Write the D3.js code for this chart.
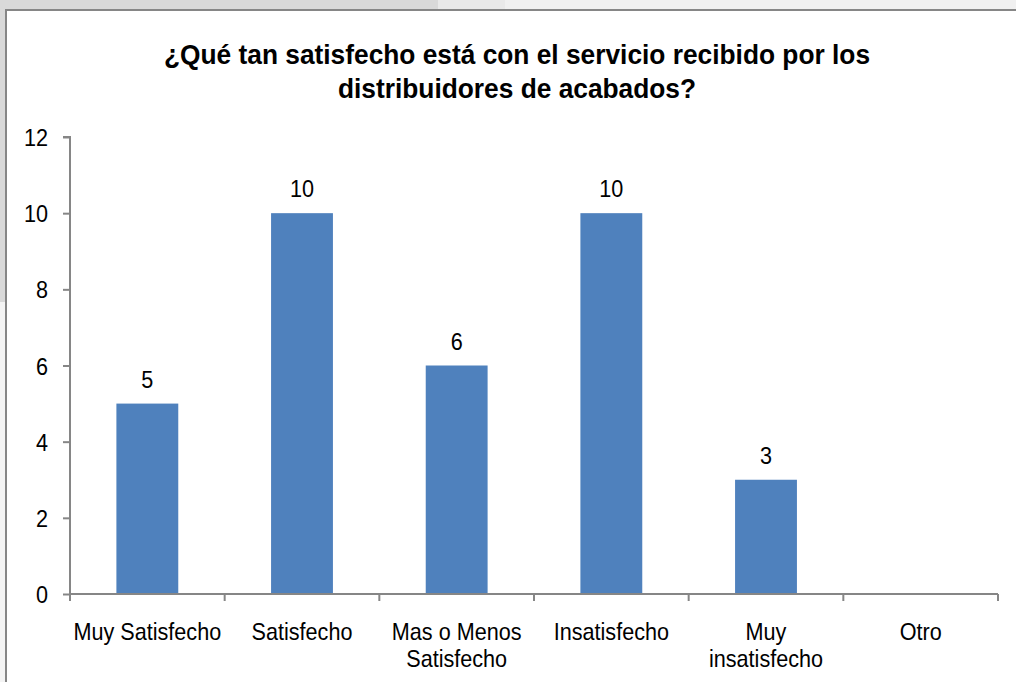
<!DOCTYPE html>
<html>
<head>
<meta charset="utf-8">
<script src="https://cdn.jsdelivr.net/npm/d3@7"></script>
<style>
	body { margin: 0; background: #fff; }
	svg text { font-family: "Liberation Sans", Arial, sans-serif; fill: #000; }
</style>
</head>
<body>
<script>
const categories = [
	["Muy Satisfecho"],
	["Satisfecho"],
	["Mas o Menos", "Satisfecho"],
	["Insatisfecho"],
	["Muy", "insatisfecho"],
	["Otro"],
];
const values = [5, 10, 6, 10, 3, null];
const yTicks = [0, 2, 4, 6, 8, 10, 12];
const titleLines = [
	"¿Qué tan satisfecho está con el servicio recibido por los",
	"distribuidores de acabados?",
];

const width = 1016;
const height = 682;
const narrow = 0.9; // mimic Arial Narrow

const svg = d3
	.select("body")
	.append("svg")
	.attr("width", width)
	.attr("height", height);

// background behind the chart frame
svg.append("rect").attr("x", 0).attr("y", 0).attr("width", width).attr("height", 10).attr("fill", "#f0f0f0");
svg.append("rect").attr("x", 0).attr("y", 0).attr("width", 438).attr("height", 10).attr("fill", "#d9d9d9");
svg.append("rect").attr("x", 438).attr("y", 0).attr("width", 67).attr("height", 10).attr("fill", "#e9e9e9");
svg.append("rect").attr("x", 0).attr("y", 0).attr("width", 5).attr("height", 302).attr("fill", "#d9d9d9");
svg.append("rect").attr("x", 0).attr("y", 302).attr("width", 5).attr("height", 380).attr("fill", "#f4f4f4");

// frame
svg.append("path")
	.attr("d", `M6,${height} V10 H${width}`)
	.attr("fill", "none")
	.attr("stroke", "#868686")
	.attr("stroke-width", 2);

const margin = { left: 70, right: 998, top: 137, bottom: 594 };

const x = d3
	.scaleBand()
	.domain(d3.range(categories.length))
	.range([margin.left, margin.right])
	.paddingInner(0.6)
	.paddingOuter(0.3);

const y = d3.scaleLinear().domain([0, 12]).range([margin.bottom, margin.top]);

const place = (px, py, k = narrow) => `translate(${px},${py}) scale(${k},1)`;

// title
svg.append("g")
	.selectAll("text")
	.data(titleLines)
	.enter()
	.append("text")
	.attr("text-anchor", "middle")
	.attr("font-size", 28)
	.attr("font-weight", "bold")
	.attr("transform", (d, i) => place(517, 64 + i * 34, 0.94))
	.text((d) => d);

// y axis
const yAxis = svg.append("g")
	.attr("transform", `translate(${margin.left},0)`)
	.call(d3.axisLeft(y).tickValues(yTicks).tickSize(7));
yAxis.select(".domain").attr("stroke", "#868686").attr("stroke-width", 2).attr("d", `M-7,${margin.top}H0V${margin.bottom}`);
yAxis.selectAll(".tick line").attr("stroke", "#868686").attr("stroke-width", 2);
yAxis.selectAll(".tick text")
	.attr("font-size", 24)
	.attr("font-family", null)
	.attr("x", null)
	.attr("dy", null)
	.attr("transform", place(-22, 8.5));

// bars
const barData = values.map((v, i) => ({ v, i })).filter((d) => d.v != null);
svg.append("g")
	.selectAll("rect")
	.data(barData)
	.enter()
	.append("rect")
	.attr("x", (d) => x(d.i))
	.attr("y", (d) => y(d.v))
	.attr("width", x.bandwidth())
	.attr("height", (d) => y(0) - y(d.v))
	.attr("fill", "#4f81bd");

// value labels
svg.append("g")
	.selectAll("text")
	.data(barData)
	.enter()
	.append("text")
	.attr("text-anchor", "middle")
	.attr("font-size", 24)
	.attr("transform", (d) => place(x(d.i) + x.bandwidth() / 2, y(d.v) - 16))
	.text((d) => d.v);

// x axis
const step = x.step();
const xAxisG = svg.append("g").attr("transform", `translate(0,${margin.bottom})`);
xAxisG.append("line")
	.attr("x1", margin.left).attr("x2", margin.right)
	.attr("stroke", "#868686").attr("stroke-width", 2);
xAxisG.selectAll(".tick")
	.data(d3.range(categories.length + 1))
	.enter()
	.append("line")
	.attr("x1", (d) => margin.left + d * step)
	.attr("x2", (d) => margin.left + d * step)
	.attr("y1", 0).attr("y2", 7)
	.attr("stroke", "#868686").attr("stroke-width", 2);

categories.forEach((lines, i) => {
	xAxisG.selectAll(null)
		.data(lines)
		.enter()
		.append("text")
		.attr("text-anchor", "middle")
		.attr("font-size", 24)
		.attr("transform", (d, j) => place(x(i) + x.bandwidth() / 2, 46 + j * 27))
		.text((d) => d);
});
</script>
</body>
</html>
